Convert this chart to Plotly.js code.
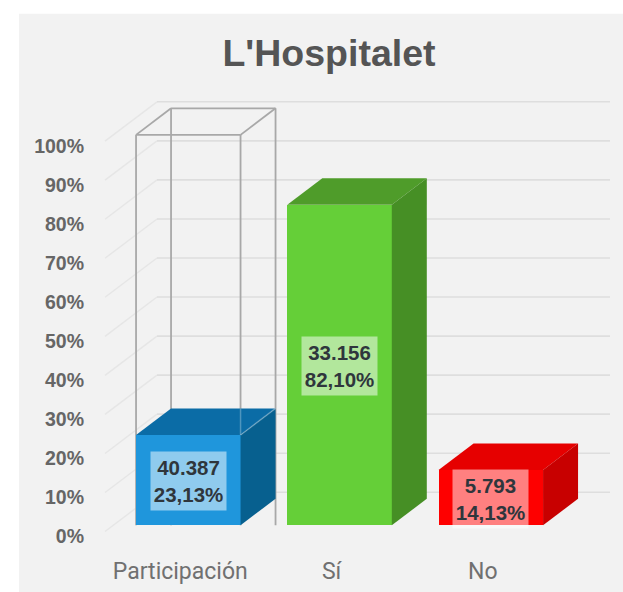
<!DOCTYPE html>
<html>
<head>
<meta charset="utf-8">
<script src="https://cdn.plot.ly/plotly-3.0.1.min.js"></script>
<style>html,body{margin:0;padding:0;background:#fff}</style>
</head>
<body>
<div id="chart" style="width:623px;height:592px"></div>
<script>
var categories = ["Participación", "Sí", "No"];
var percents = [23.13, 82.10, 14.13];
var voteLabels = ["40.387", "33.156", "5.793"];
var percentLabels = ["23,13%", "82,10%", "14,13%"];
var frontColors = ["#1f96dc", "#65cf38", "#fe0000"];
var topColors = ["#0b6ca6", "#4f9c2a", "#e60000"];
var sideColors = ["#07608f", "#468f25", "#c80000"];
var tickValues = [0, 10, 20, 30, 40, 50, 60, 70, 80, 90, 100];
var tickLabels = ["0%", "10%", "20%", "30%", "40%", "50%", "60%", "70%", "80%", "90%", "100%"];
var outlineValue = 100;

// page geometry
var W = 623, H = 592;
var plotL = 85, plotR = 623, plotT = 88.2, plotB = 536.7;
var pxPerCat = 151.25, cat0Px = 188.3, pxPerPct = 3.9;
var xOf = function (px) { return (px - cat0Px) / pxPerCat; };
var barWidth = 104.5 / pxPerCat;
var depthX = 35 / pxPerCat, depthY = 26.5 / pxPerPct;
var half = barWidth / 2;
var yMin = -(plotB - 525) / pxPerPct, yMax = (525 - plotT) / pxPerPct;

var traces = [];
traces.push({
  type: "bar", x: [0, 1, 2], y: percents, width: barWidth,
  marker: { color: frontColors, line: { width: 0 } },
  hoverinfo: "skip", showlegend: false
});
percents.forEach(function (v, i) {
  var a = i - half, b = i + half;
  traces.push({
    type: "scatter", mode: "lines", fill: "toself", fillcolor: topColors[i],
    x: [a, a + depthX, b + depthX, b, a],
    y: [v, v + depthY, v + depthY, v, v],
    line: { width: 0, color: topColors[i] }, hoverinfo: "skip", showlegend: false
  });
  traces.push({
    type: "scatter", mode: "lines", fill: "toself", fillcolor: sideColors[i],
    x: [b, b + depthX, b + depthX, b, b],
    y: [0, depthY, v + depthY, v, 0],
    line: { width: 0, color: sideColors[i] }, hoverinfo: "skip", showlegend: false
  });
});
// faint outline seen through the blue cube
traces.push({
  type: "scatter", mode: "lines",
  x: [half, half, null, half, half + depthX],
  y: [percents[0], percents[0] + depthY, null, percents[0], percents[0] + depthY],
  line: { width: 1.5, color: "rgba(255,255,255,0.28)" }, hoverinfo: "skip", showlegend: false
});

var shapes = [{
  type: "rect", xref: "paper", yref: "paper", layer: "below",
  x0: (19 - plotL) / (plotR - plotL), x1: 1,
  y0: (plotB - H) / (plotB - plotT), y1: (plotB - 14) / (plotB - plotT),
  fillcolor: "#f2f2f2", line: { width: 0 }
}];
function seg(x0, y0, x1, y1, color, w) {
  shapes.push({ type: "line", xref: "x", yref: "y", layer: "below",
    x0: x0, y0: y0, x1: x1, y1: y1, line: { color: color, width: w } });
}
var wallShift = 33 / pxPerPct, wallX0 = xOf(157), wallX1 = xOf(610), sideX0 = xOf(105);
tickValues.forEach(function (t) {
  seg(sideX0, t - 1.6, wallX0, t + wallShift, "#e6e6e6", 1.4);
  seg(wallX0, t + wallShift, wallX1, t + wallShift, "#dedede", 1.6);
});
// transparent 100% outline of the Participación column
var a0 = -half, b0 = half, oc = "#a8a8a8", ow = 1.8;
seg(a0 + depthX, 0, a0 + depthX, outlineValue + depthY, oc, ow);
seg(b0 + depthX, 0, b0 + depthX, outlineValue + depthY, oc, ow);
seg(a0 + depthX, outlineValue + depthY, b0 + depthX, outlineValue + depthY, oc, ow);
seg(a0, outlineValue, a0 + depthX, outlineValue + depthY, oc, ow);
seg(b0, outlineValue, b0 + depthX, outlineValue + depthY, oc, ow);
seg(a0, 0, a0, outlineValue, oc, ow);
seg(b0, 0, b0, outlineValue, oc, ow);
seg(a0, outlineValue, b0, outlineValue, oc, ow);

var annotations = percents.map(function (v, i) {
  return {
    x: i, y: v / 2, xref: "x", yref: "y", showarrow: false, yshift: -1,
    text: voteLabels[i] + "<br>" + percentLabels[i],
    width: 75, height: 58, align: "center", valign: "middle",
    bgcolor: "rgba(255,255,255,0.5)", borderpad: 0,
    font: { family: "Liberation Sans", size: 20.5, color: "#2f363c", weight: 700 }
  };
});

var layout = {
  width: W, height: H, autosize: false,
  margin: { l: plotL, r: W - plotR, t: plotT, b: H - plotB, pad: 0 },
  paper_bgcolor: "#ffffff", plot_bgcolor: "rgba(0,0,0,0)",
  showlegend: false, bargap: 0,
  title: {
    text: "L'Hospitalet", x: (329 - plotL) / (plotR - plotL), xanchor: "center", xref: "paper",
    y: 1 - 53 / H, yanchor: "middle",
    font: { family: "Liberation Sans", size: 37.5, color: "#555555", weight: 700 }
  },
  xaxis: {
    type: "linear", range: [xOf(plotL), xOf(plotR)],
    tickmode: "array", tickvals: [0, 1, 2], ticktext: categories,
    ticks: "", showgrid: false, zeroline: false, showline: false,
    ticklabelstandoff: 18, ticklabelshift: -8,
    tickfont: { family: "Roboto", size: 23, color: "#707070" }
  },
  yaxis: {
    range: [yMin, yMax],
    tickmode: "array", tickvals: tickValues, ticktext: tickLabels,
    ticks: "", showgrid: false, zeroline: false, showline: false,
    ticklabelshift: 11,
    tickfont: { family: "Liberation Sans", size: 19.5, color: "#666666", weight: 700 }
  },
  shapes: shapes,
  annotations: annotations
};
Plotly.newPlot("chart", traces, layout, { displayModeBar: false, staticPlot: true });
</script>
</body>
</html>
